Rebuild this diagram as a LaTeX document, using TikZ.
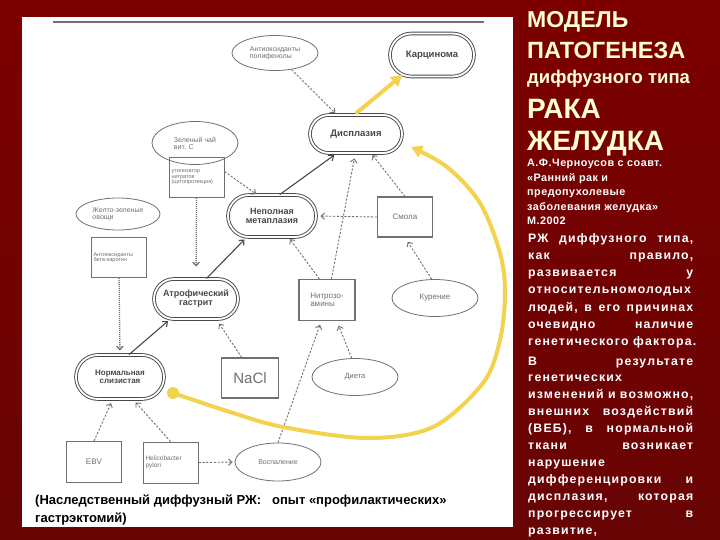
\documentclass[tikz,border=0pt]{standalone}
\usepackage{fontspec}
\setmainfont{Liberation Sans}
\newfontfamily\bodyf[LetterSpace=9.5]{Liberation Sans}
\newfontfamily\srcf[LetterSpace=4.5]{Liberation Sans}
\usetikzlibrary{shapes.misc,shapes.geometric,arrows.meta,calc}
\definecolor{bgred}{HTML}{7C0000}
\definecolor{bgred2}{HTML}{680404}
\definecolor{yel}{HTML}{F2D24E}
\definecolor{ttl}{HTML}{FFFFD2}
\definecolor{lgray}{HTML}{707070}
\definecolor{dgray}{HTML}{484848}
\newcommand\fs[1]{\fontsize{#1}{#1}\selectfont}
\newcommand\jl[1]{\hbox to 165pt{#1}}
\begin{document}
\begin{tikzpicture}[x=1pt,y=-1pt,
  stad/.style={rounded rectangle, draw=dgray, line width=0.9pt, double=white, double distance=1.8pt, inner sep=1pt, align=center, font=\bfseries\fs{9}, text=dgray},
  ell/.style={ellipse, draw=lgray, line width=0.8pt, inner sep=0pt, align=left, font=\fs{7.5}, text=lgray},
  rbox/.style={rectangle, draw=lgray, line width=1.1pt, inner sep=1.5pt, align=left, font=\fs{6.5}, text=lgray, minimum width=55pt, minimum height=40pt},
  dar/.style={draw=lgray, line width=0.9pt, dash pattern=on 2.2pt off 1.6pt, -{Straight Barb[length=3.5pt,width=6.5pt]}},
  dotarr/.style={draw=lgray, line width=1.3pt, dash pattern=on 1pt off 1pt, -{Straight Barb[length=3.5pt,width=6.5pt]}},
  sar/.style={draw=dgray, line width=1.1pt, -{Straight Barb[length=4pt,width=7pt]}},
  yarr/.style={draw=yel, line width=4pt, line cap=round, -{Triangle[length=11pt,width=12pt]}},
  rt/.style={anchor=base west, inner sep=0pt, text=ttl},
  wt/.style={anchor=base west, inner sep=0pt, text=white}
]
\useasboundingbox (0,0) rectangle (720,540);
\shade[top color=bgred, bottom color=bgred2] (0,0) rectangle (720,540);
\fill[white] (22,17) rectangle (513,527);
\draw[lgray, line width=1.3pt] (53,22) -- (484,22);

% nodes
\node[ell, minimum width=86pt, minimum height=35pt, font=\fs{7}] (anti) at (275,53) {Антиоксиданты\\полифенолы};
\node[stad, minimum width=86pt, minimum height=43pt, font=\bfseries\fs{9.5}] (carc) at (432,55) {Карцинома};
\node[stad, minimum width=94pt, minimum height=38pt, font=\bfseries\fs{9.5}] (dysp) at (356,134) {Дисплазия};
\node[ell, minimum width=86pt, minimum height=43pt, font=\fs{7}] (tea) at (195,143) {Зеленый чай\\вит. С};
\node[rbox, font=\fs{5.5}, align=left, anchor=north west, text width=50pt] (util) at (168.5,157) {утилизатор\\нитратов\\(цитопротекция)};
\node[ell, minimum width=84pt, minimum height=32pt, font=\fs{7}] (yg) at (118,214) {Желто-зеленые\\овощи};
\node[rbox, font=\fs{5.5}, anchor=north west, text width=51pt] (carot) at (91,237) {Антиоксиданты\\бета-каротин};
\node[stad, minimum width=90pt, minimum height=42pt] (nep) at (272,216) {Неполная\\метаплазия};
\node[rbox, font=\fs{8}] (smola) at (405,217) {Смола};
\node[stad, minimum width=86pt, minimum height=40pt] (atr) at (196,299) {Атрофический\\гастрит};
\node[rbox, font=\fs{8}, minimum width=56pt, minimum height=41pt] (nitro) at (327,300) {Нитрозо-\\амины};
\node[ell, minimum width=86pt, minimum height=37pt, font=\fs{8}] (kur) at (435,298) {Курение};
\node[stad, minimum width=90pt, minimum height=44pt, font=\bfseries\fs{8}] (norm) at (120,377) {Нормальная\\слизистая};
\node[rbox, font=\fs{15}, minimum width=57pt] (nacl) at (250,378) {NaCl};
\node[ell, minimum width=86pt, minimum height=37pt, font=\fs{7.5}] (diet) at (355,377) {Диета};
\node[rbox, font=\fs{8}, minimum height=41pt] (ebv) at (94,462) {EBV};
\node[rbox, font=\fs{6.5}, anchor=north west, text width=50pt, minimum height=41pt] (heli) at (142.5,441.5) {Helicobacter\\pylori};
\node[ell, minimum width=86pt, minimum height=38pt, font=\fs{7}] (vosp) at (278,462) {Воспаление};

% connectors
\draw[dar, shorten >=2pt] (anti) -- (dysp);
\draw[dar, shorten >=1pt] (util.12) -- (nep.125);
\draw[sar, shorten >=3pt] (nep.70) -- (dysp.225);
\draw[dar, shorten >=5pt] (nitro.78) -- (dysp.268);
\draw[dar, shorten >=2pt] (smola.north) -- (dysp.-52);
\draw[dar, shorten >=4pt] (smola.west) -- (nep.east);
\draw[dar, shorten >=2pt] (nitro.110) -- (nep.-52);
\draw[dar, shorten >=5pt] (kur.100) -- (smola.south);
\draw[dotarr, shorten >=12pt] (util.south) -- (atr.north);
\draw[sar, shorten >=3pt] (atr.63) -- (nep.220);
\draw[dotarr, shorten >=4pt] (carot.south) -- (norm.north);
\draw[sar, shorten >=3pt] (norm.68) -- (atr.218);
\draw[dar, shorten >=5pt] (nacl.112) -- (atr.-45);
\draw[dar, shorten >=4pt] (vosp.north) -- (nitro.-105);
\draw[dar, shorten >=5pt] (diet.100) -- (nitro.-65);
\draw[dar, shorten >=4pt] (ebv.north) -- (norm.-108);
\draw[dar, shorten >=4pt] (heli.north) -- (norm.-60);
\draw[dar, shorten >=2pt] (heli.east) -- (vosp.west);

% yellow arrows
\draw[yarr] ($(dysp.north)+(1,-2)$) -- (carc.214);
\coordinate (ystart) at (173,393);
\coordinate (yend) at (411,147);
\draw[yarr] plot[smooth, tension=0.55] coordinates {(ystart) (230,412) (283,427) (367,438) (433,427) (483,383) (500,340) (505,293) (500,253) (480,203) (447,167) (yend)};
\fill[yel] (ystart) circle (6pt);

% caption
\node[anchor=base west, inner sep=0pt, font=\bfseries\fs{13}, text=black] (cap) at (35,504) {\parbox[t]{470pt}{\baselineskip=18pt (Наследственный диффузный РЖ:\ \ \ опыт «профилактических»\\гастрэктомий)}};

% right side text
\node[rt, font=\bfseries\fs{23}] (t1) at (527,28) {МОДЕЛЬ};
\node[rt, font=\bfseries\fs{23.5}] (t2) at (527,59) {ПАТОГЕНЕЗА};
\node[rt, font=\bfseries\fs{18.5}] (t3) at (527,84) {диффузного типа};
\node[rt, font=\bfseries\fs{28}] (t4) at (527,119) {РАКА};
\node[rt, font=\bfseries\fs{28}] (t5) at (527,151) {ЖЕЛУДКА};
\node[wt, font=\srcf\bfseries\fs{10.8}] (src) at (527,167) {\parbox[t]{190pt}{\baselineskip=14.5pt А.Ф.Черноусов с соавт.\\«Ранний рак и\\предопухолевые\\заболевания желудка»\\М.2002}};
\node[wt, font=\bodyf\bfseries\fs{12.3}] (p1) at (528,242) {\parbox[t]{165pt}{\baselineskip=17.3pt
\jl{РЖ\hfill диффузного\hfill типа,}
\jl{как\hfill правило,}
\jl{развивается\hfill у}
\jl{относительномолодых\hfill}
\jl{людей,\hfill в\hfill его\hfill причинах}
\jl{очевидно\hfill наличие}
\hbox{генетического фактора.}}};
\node[wt, font=\bodyf\bfseries\fs{12.3}] (p2) at (528,365) {\parbox[t]{165pt}{\baselineskip=16.9pt
\jl{В\hfill результате}
\hbox{генетических}
\jl{изменений\hfill и\hfill возможно,}
\jl{внешних\hfill воздействий}
\jl{(ВЕБ),\hfill в\hfill нормальной}
\jl{ткани\hfill возникает}
\hbox{нарушение}
\jl{дифференцировки\hfill и}
\jl{дисплазия,\hfill которая}
\jl{прогрессирует\hfill в}
\hbox{развитие,}}};
\end{tikzpicture}
\end{document}
